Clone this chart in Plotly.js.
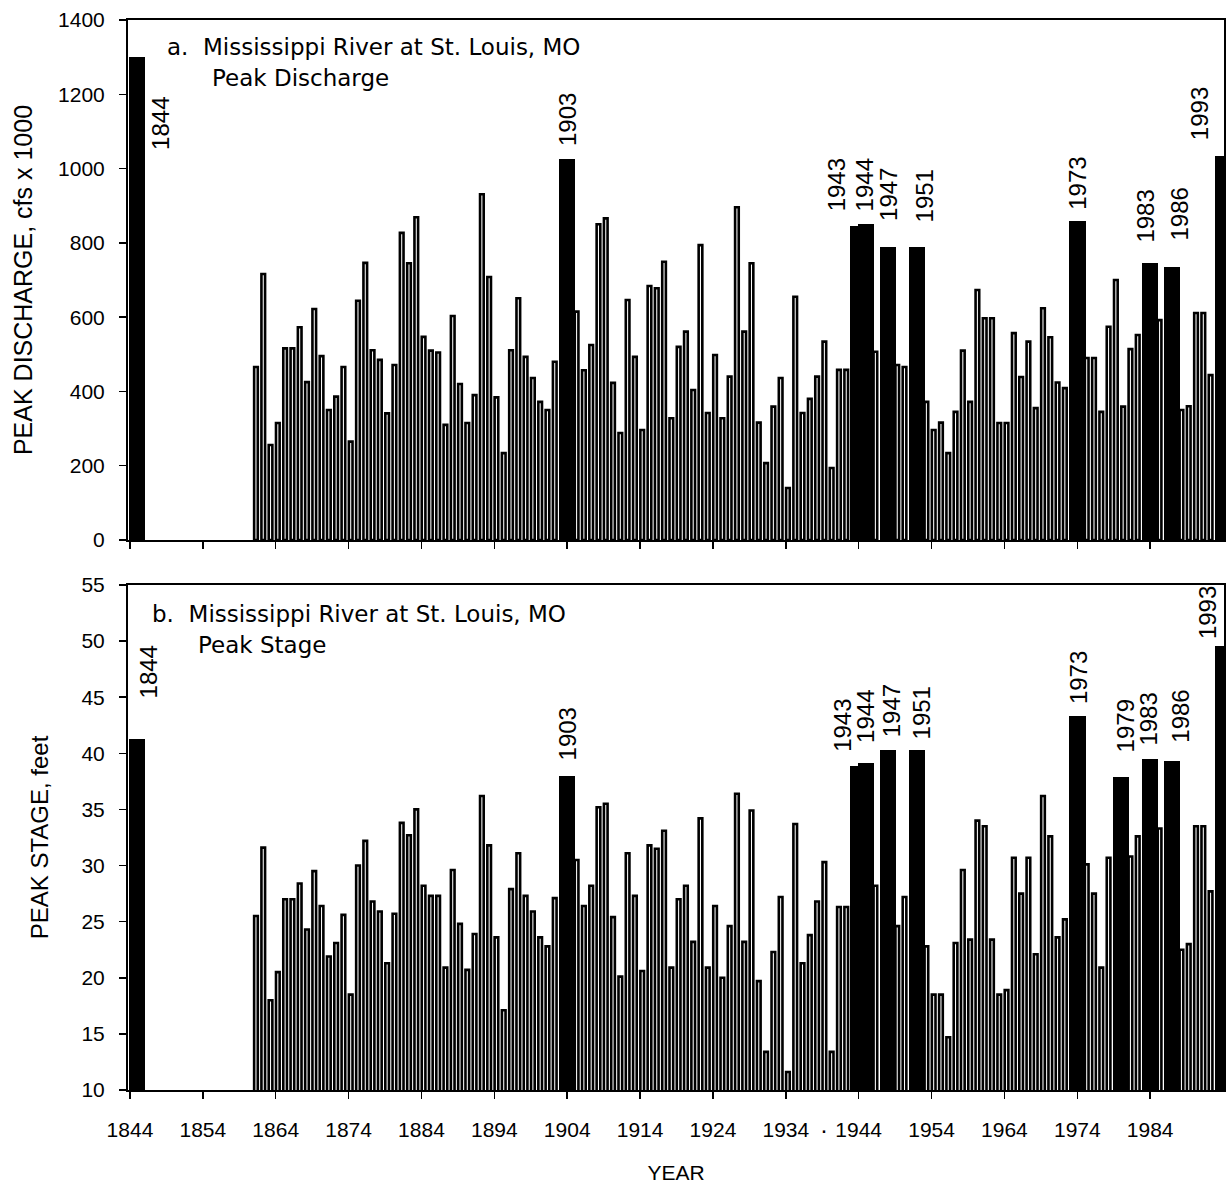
<!DOCTYPE html>
<html>
<head>
<meta charset="utf-8">
<script src="https://cdn.plot.ly/plotly-3.0.1.min.js"></script>
<style>
html,body{margin:0;padding:0;background:#fff}
#chart{width:1226px;height:1188px}
</style>
</head>
<body>
<div id="chart"></div>
<script>
// ---------------- DATA ----------------
const years = [1844,
 1861,1862,1863,1864,1865,1866,1867,1868,1869,1870,
 1871,1872,1873,1874,1875,1876,1877,1878,1879,1880,
 1881,1882,1883,1884,1885,1886,1887,1888,1889,1890,
 1891,1892,1893,1894,1895,1896,1897,1898,1899,1900,
 1901,1902,1903,1904,1905,1906,1907,1908,1909,1910,
 1911,1912,1913,1914,1915,1916,1917,1918,1919,1920,
 1921,1922,1923,1924,1925,1926,1927,1928,1929,1930,
 1931,1932,1933,1934,1935,1936,1937,1938,1939,1940,
 1941,1942,1943,1944,1945,1946,1947,1948,1949,1950,
 1951,1952,1953,1954,1955,1956,1957,1958,1959,1960,
 1961,1962,1963,1964,1965,1966,1967,1968,1969,1970,
 1971,1972,1973,1974,1975,1976,1977,1978,1979,1980,
 1981,1982,1983,1984,1985,1986,1987,1988,1989,1990,
 1991,1992,1993];

// Peak discharge, cfs x 1000
const peakDischarge = [1300,
 466,716,256,315,516,516,573,425,622,495,
 350,386,466,265,644,746,511,485,341,471,
 827,745,869,547,510,505,310,603,420,315,
 390,931,708,384,234,511,651,493,436,372,
 350,480,1025,560,615,457,525,850,866,423,
 288,646,493,296,684,678,749,328,520,561,
 404,794,342,498,328,440,896,561,745,316,
 207,359,436,140,655,342,380,440,534,194,
 458,458,845,851,520,507,790,426,471,466,
 789,400,372,296,316,234,345,510,372,673,
 597,597,315,315,557,439,534,355,624,546,
 424,409,859,500,490,490,345,574,700,359,
 514,552,746,693,592,735,420,350,360,611,
 611,444,1035];

// Peak stage, feet
const peakStage = [41.3,
 25.5,31.6,18.0,20.5,27.0,27.0,28.4,24.3,29.5,26.4,
 21.9,23.1,25.6,18.5,30.0,32.2,26.8,25.9,21.3,25.7,
 33.8,32.7,35.0,28.2,27.3,27.3,20.9,29.6,24.8,20.7,
 23.9,36.2,31.8,23.6,17.1,27.9,31.1,27.3,25.9,23.6,
 22.8,27.1,38.0,28.0,30.5,26.4,28.2,35.2,35.5,25.4,
 20.1,31.1,27.3,20.6,31.8,31.5,33.1,20.9,27.0,28.2,
 23.2,34.2,20.9,26.4,20.0,24.6,36.4,23.2,34.9,19.7,
 13.4,22.3,27.2,11.6,33.7,21.3,23.8,26.8,30.3,13.4,
 26.3,26.3,38.9,39.1,29.0,28.2,40.3,26.9,24.6,27.2,
 40.3,24.0,22.8,18.5,18.5,14.7,23.1,29.6,23.4,34.0,
 33.5,23.4,18.5,18.9,30.7,27.5,30.7,22.1,36.2,32.6,
 23.6,25.2,43.3,29.0,30.1,27.5,20.9,30.7,37.9,23.0,
 30.8,32.6,39.5,34.7,33.3,39.3,27.0,22.5,23.0,33.5,
 33.5,27.7,49.6];

// Years drawn as solid, labelled bars
const labeledDischargeYears = [1844,1903,1943,1944,1947,1951,1973,1983,1986,1993];
const labeledStageYears = [1844,1903,1943,1944,1947,1951,1973,1979,1983,1986,1993];

// x-axis tick labels
const xTickYears = [1844,1854,1864,1874,1884,1894,1904,1914,1924,1934,1944,1954,1964,1974,1984];

// Panel texts
const panelA = ["a.  Mississippi River at St. Louis, MO", "Peak Discharge"];
const panelB = ["b.  Mississippi River at St. Louis, MO", "Peak Stage"];

// ---------------- STYLE / LAYOUT ----------------
const FONT = "Liberation Sans, Arial, Helvetica, sans-serif";
const WIDEFONT = "DejaVu Sans, Liberation Sans, sans-serif";
const lightWidth = 0.5, lightCenter = 0.29;
const boldWidth = 2.25, boldCenter = 1.0;

const nudgeTop = {1844:{xshift:23, anchorTop:true, yshift:-38}, 1903:{xshift:1,yshift:11}, 1943:{xshift:-22,yshift:13},
  1944:{xshift:-2,yshift:11}, 1947:{xshift:0,yshift:24}, 1951:{xshift:7,yshift:23}, 1973:{xshift:0,yshift:9},
  1983:{xshift:-5,yshift:18}, 1986:{xshift:7,yshift:24}, 1993:{xshift:-24,yshift:13}};
const nudgeBot = {1844:{xshift:11,yshift:38}, 1903:{xshift:0,yshift:13}, 1943:{xshift:-17,yshift:12},
  1944:{xshift:0,yshift:19}, 1947:{xshift:4,yshift:11}, 1951:{xshift:4,yshift:9}, 1973:{xshift:1,yshift:10},
  1979:{xshift:4,yshift:22}, 1983:{xshift:-2,yshift:11}, 1986:{xshift:9,yshift:16}, 1993:{xshift:-16,yshift:4}};

function splitSeries(vals, labeled) {
  const lx=[], ly=[], bx=[], by=[];
  years.forEach((yr,i)=>{
    if (labeled.includes(yr)) { bx.push(yr); by.push(vals[i]); }
    else { lx.push(yr); ly.push(vals[i]); }
  });
  return {lx,ly,bx,by};
}
const dTop = splitSeries(peakDischarge, labeledDischargeYears);
const dBot = splitSeries(peakStage, labeledStageYears);

function lightTrace(d, xa, ya) {
  return {type:'bar', x:d.lx, y:d.ly, xaxis:xa, yaxis:ya, width:lightWidth, offset:lightCenter-lightWidth/2,
    marker:{color:'#ffffff', line:{color:'#000000', width:2.6}}, hoverinfo:'x+y', showlegend:false};
}
function boldTrace(d, xa, ya) {
  return {type:'bar', x:d.bx, y:d.by, xaxis:xa, yaxis:ya, width:boldWidth, offset:boldCenter-boldWidth/2,
    marker:{color:'#000000', line:{width:0}}, hoverinfo:'x+y', showlegend:false};
}

const traces = [
  lightTrace(dTop,'x2','y2'), boldTrace(dTop,'x2','y2'),
  lightTrace(dBot,'x','y'), boldTrace(dBot,'x','y')
];

const annotations = [];
function yearLabels(d, xref, yref, nudge) {
  d.bx.forEach((yr,i)=>{
    const n = nudge[yr] || {xshift:0,yshift:10};
    annotations.push({x: yr + boldCenter, y: d.by[i], xref, yref, text: String(yr), textangle: -90,
      showarrow:false, xanchor:'center', yanchor: n.anchorTop ? 'top' : 'bottom',
      xshift:n.xshift, yshift:n.yshift, font:{family:FONT, size:24, color:'#000'}});
  });
}
yearLabels(dTop,'x2','y2',nudgeTop);
yearLabels(dBot,'x','y',nudgeBot);

const titleFont = {family:WIDEFONT, size:23, color:'#000'};
annotations.push({xref:'paper', yref:'paper', x:0.034, y:0.975, xanchor:'left', yanchor:'middle', text:panelA[0], showarrow:false, font:titleFont});
annotations.push({xref:'paper', yref:'paper', x:0.075, y:0.946, xanchor:'left', yanchor:'middle', text:panelA[1], showarrow:false, font:titleFont});
annotations.push({xref:'paper', yref:'paper', x:0.020, y:0.445, xanchor:'left', yanchor:'middle', text:panelB[0], showarrow:false, font:titleFont});
annotations.push({xref:'paper', yref:'paper', x:0.062, y:0.416, xanchor:'left', yanchor:'middle', text:panelB[1], showarrow:false, font:titleFont});
annotations.push({xref:'x', yref:'paper', x:1939.2, y:-0.037, xanchor:'center', yanchor:'middle', text:'·', showarrow:false, font:{family:FONT,size:24,color:'#000'}});

const tickFont = {family:FONT, size:21, color:'#000'};
const xCommon = {
  range:[1843.73, 1994.13], tickmode:'array', tickvals:xTickYears, ticktext:xTickYears.map(String),
  ticks:'outside', ticklen:7, tickwidth:1.5, tickcolor:'#000',
  showline:true, linewidth:2, linecolor:'#000', mirror:true, showgrid:false, zeroline:false,
  tickfont:tickFont
};
const layout = {
  width:1226, height:1188, paper_bgcolor:'#fff', plot_bgcolor:'#fff',
  margin:{l:128, r:2, t:20, b:98},
  barmode:'overlay', bargap:0, showlegend:false,
  font:{family:FONT, color:'#000'},
  xaxis: Object.assign({}, xCommon, {anchor:'y', domain:[0,1], ticklabelstandoff:13,
    title:{text:'YEAR', font:{family:FONT,size:21,color:'#000'}, standoff:25}}),
  xaxis2: Object.assign({}, xCommon, {anchor:'y2', domain:[0,1], matches:'x', showticklabels:false}),
  yaxis: {anchor:'x', domain:[0,0.472], range:[10,55], tickmode:'linear', tick0:10, dtick:5,
    ticks:'outside', ticklen:7, tickwidth:1.5, tickcolor:'#000', ticklabelstandoff:10,
    showline:true, linewidth:2, linecolor:'#000', mirror:true, showgrid:false, zeroline:false,
    tickfont:tickFont, title:{text:'PEAK STAGE, feet', font:{family:FONT,size:24,color:'#000'}, standoff:26}},
  yaxis2: {anchor:'x2', domain:[0.514,1], range:[0,1400], tickmode:'linear', tick0:0, dtick:200,
    ticks:'outside', ticklen:7, tickwidth:1.5, tickcolor:'#000', ticklabelstandoff:10,
    showline:true, linewidth:2, linecolor:'#000', mirror:true, showgrid:false, zeroline:false,
    tickfont:tickFont, title:{text:'PEAK DISCHARGE, cfs x 1000', font:{family:FONT,size:25,color:'#000'}, standoff:18}},
  annotations
};

Plotly.newPlot('chart', traces, layout, {displayModeBar:false, staticPlot:true});
</script>
</body>
</html>
